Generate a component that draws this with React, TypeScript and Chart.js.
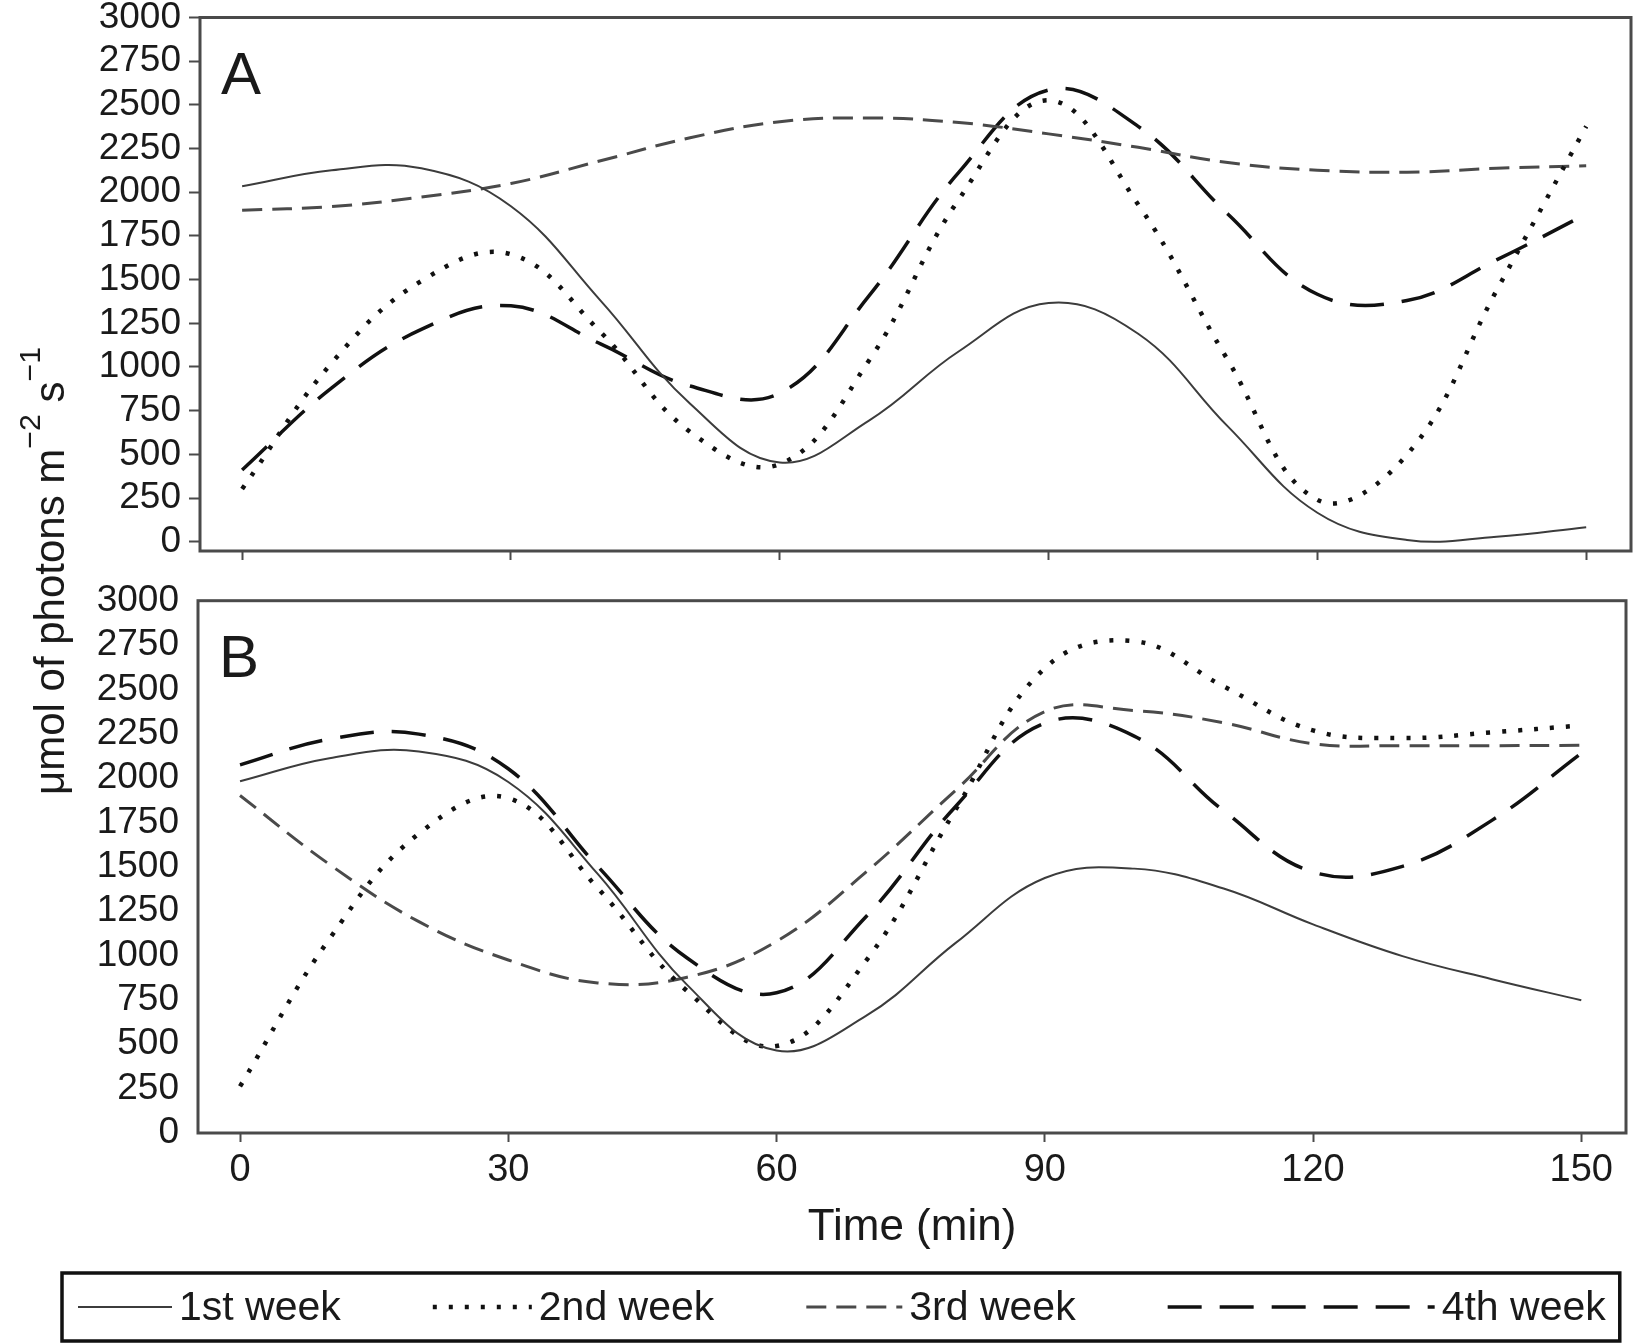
import React, { useEffect, useRef } from 'react';
import Chart from 'chart.js/auto';

// sampling times (min)
const TIME = [0, 10, 20, 30, 40, 50, 60, 70, 80, 90, 100, 110, 120, 130, 140, 150];
const WEEKS = ['1st week', '2nd week', '3rd week', '4th week'];

// panel A, µmol photons m-2 s-1
const A_WEEK1 = [2034, 2126, 2137, 1920, 1380, 790, 454, 695, 1090, 1366, 1190, 660, 166, 10, 28, 83];
const A_WEEK2 = [302, 1023, 1492, 1645, 1200, 629, 444, 1040, 1960, 2526, 1930, 1040, 240, 498, 1438, 2377];
const A_WEEK3 = [1897, 1918, 1973, 2050, 2180, 2312, 2404, 2425, 2399, 2334, 2257, 2170, 2126, 2115, 2137, 2152];
const A_WEEK4 = [411, 880, 1215, 1350, 1132, 891, 850, 1410, 2115, 2585, 2377, 1875, 1416, 1380, 1613, 1875];

// panel B
const B_WEEK1 = [1982, 2112, 2150, 1978, 1460, 835, 465, 660, 1070, 1437, 1490, 1378, 1176, 997, 867, 748];
const B_WEEK2 = [263, 1094, 1687, 1887, 1380, 800, 490, 970, 1820, 2620, 2772, 2517, 2269, 2226, 2258, 2297];
const B_WEEK3 = [1902, 1514, 1191, 975, 846, 878, 1080, 1470, 1930, 2375, 2381, 2312, 2194, 2183, 2183, 2185];
const B_WEEK4 = [2075, 2220, 2248, 2053, 1503, 986, 790, 1219, 1839, 2310, 2237, 1816, 1471, 1503, 1762, 2140];

const Y_TICKS = [0, 250, 500, 750, 1000, 1250, 1500, 1750, 2000, 2250, 2500, 2750, 3000];
const X_TICKS = [0, 30, 60, 90, 120, 150];

const FONT = "'Liberation Sans', Arial, Helvetica, sans-serif";
const INK = '#1a1a1a';
const FRAME = '#4a4a4a';

const LINE_STYLES = [
  { borderColor: '#3c3c3c', borderWidth: 2, borderDash: [] as number[] },
  { borderColor: '#111111', borderWidth: 4.5, borderDash: [4, 12] },
  { borderColor: '#4a4a4a', borderWidth: 3, borderDash: [20, 10] },
  { borderColor: '#111111', borderWidth: 3.5, borderDash: [34, 18] },
];
const LEGEND_LINE_LEN = [94, 99, 96, 267];

const framePlugin = {
  id: 'frame',
  afterDatasetsDraw(chart: any, _args: any, opts: any) {
    const { ctx, chartArea: a } = chart;
    ctx.save();
    ctx.strokeStyle = FRAME;
    ctx.lineWidth = 3;
    ctx.strokeRect(a.left, a.top, a.right - a.left, a.bottom - a.top);
    if (opts.letter) {
      ctx.fillStyle = INK;
      ctx.font = `60px ${FONT}`;
      ctx.textBaseline = 'alphabetic';
      ctx.fillText(opts.letter, a.left + 21, a.top + 76);
    }
    ctx.restore();
  },
};

const weekLegendPlugin = {
  id: 'weekLegend',
  afterDraw(chart: any, _args: any, opts: any) {
    if (!opts || !opts.show) return;
    const { ctx } = chart;
    const cy = (opts.top + opts.bottom) / 2;
    ctx.save();
    ctx.font = `41px ${FONT}`;
    ctx.textBaseline = 'middle';
    let x = opts.left + 16;
    chart.data.datasets.forEach((ds: any, i: number) => {
      const len = LEGEND_LINE_LEN[i];
      ctx.strokeStyle = ds.borderColor;
      ctx.lineWidth = ds.borderWidth;
      ctx.setLineDash(ds.borderDash || []);
      ctx.beginPath();
      ctx.moveTo(x, cy);
      ctx.lineTo(x + len, cy);
      ctx.stroke();
      ctx.setLineDash([]);
      ctx.fillStyle = INK;
      const tx = x + len + 7;
      ctx.fillText(ds.label, tx, cy + 2);
      x = tx + ctx.measureText(ds.label).width + opts.gap;
    });
    const right = x - opts.gap + 14;
    ctx.strokeStyle = '#111111';
    ctx.lineWidth = 3.5;
    ctx.strokeRect(opts.left, opts.top, right - opts.left, opts.bottom - opts.top);
    ctx.restore();
  },
};

type Area = { left: number; top: number; right: number; bottom: number };

function Panel(props: {
  series: number[][];
  letter: string;
  bottom: boolean;
  top: number;
  height: number;
  area: Area;
  yMin: number;
}) {
  const canvasRef = useRef<HTMLCanvasElement | null>(null);
  const chartRef = useRef<Chart | null>(null);
  const { series, letter, bottom, top, height, area, yMin } = props;

  useEffect(() => {
    if (chartRef.current) chartRef.current.destroy();
    const ctx = canvasRef.current?.getContext('2d');
    if (!ctx) return;

    chartRef.current = new Chart(ctx, {
      type: 'line',
      data: {
        datasets: series.map((vals, i) => ({
          label: WEEKS[i],
          data: TIME.map((t, j) => ({ x: t, y: vals[j] })),
          ...LINE_STYLES[i],
          borderCapStyle: 'butt' as const,
          pointRadius: 0,
          tension: 0.4,
          fill: false,
        })),
      },
      options: {
        animation: false,
        responsive: true,
        maintainAspectRatio: false,
        layout: { padding: { left: 0, top: area.top, right: 1636 - area.right, bottom: 0 } },
        plugins: {
          legend: { display: false },
          tooltip: { enabled: false },
          frame: { letter },
          weekLegend: bottom
            ? { show: true, left: 62, top: 1273 - top, bottom: 1341 - top, gap: 92 }
            : { show: false },
        } as any,
        scales: {
          x: {
            type: 'linear',
            min: -4.7,
            max: 155,
            afterBuildTicks: (s: any) => {
              s.ticks = X_TICKS.map((v) => ({ value: v }));
            },
            afterFit: (s: any) => {
              s.height = height - area.bottom;
              s.paddingLeft = 0;
              s.paddingRight = 0;
            },
            border: { display: false },
            grid: {
              display: true,
              drawOnChartArea: false,
              drawTicks: true,
              tickLength: 9,
              tickWidth: 2,
              tickColor: FRAME,
            },
            ticks: {
              display: bottom,
              autoSkip: false,
              maxRotation: 0,
              padding: 6,
              color: INK,
              font: { family: FONT, size: 38 },
              callback: (v: any) => String(v),
            },
            title: {
              display: bottom,
              text: 'Time (min)',
              color: INK,
              font: { family: FONT, size: 44 },
              padding: { top: 0, bottom: 90 },
            },
          },
          y: {
            type: 'linear',
            min: yMin,
            max: 3000,
            afterBuildTicks: (s: any) => {
              s.ticks = Y_TICKS.map((v) => ({ value: v }));
            },
            afterFit: (s: any) => {
              s.width = area.left;
              s.paddingTop = 0;
              s.paddingBottom = 0;
            },
            border: { display: false },
            grid: {
              display: true,
              drawOnChartArea: false,
              drawTicks: true,
              tickLength: 11,
              tickWidth: 2,
              tickColor: bottom ? 'rgba(0,0,0,0)' : FRAME,
            },
            ticks: {
              autoSkip: false,
              padding: 8,
              color: INK,
              font: { family: FONT, size: 37 },
              callback: (v: any) => String(v),
            },
          },
        },
      },
      plugins: [framePlugin, weekLegendPlugin],
    });

    return () => {
      if (chartRef.current) {
        chartRef.current.destroy();
        chartRef.current = null;
      }
    };
  }, []);

  return (
    <div style={{ position: 'absolute', left: 0, top, width: 1636, height }}>
      <canvas ref={canvasRef} />
    </div>
  );
}

export default function App() {
  return (
    <div
      style={{
        position: 'absolute',
        left: 0,
        top: 0,
        width: 1636,
        height: 1344,
        background: '#fff',
        overflow: 'hidden',
      }}
    >
      <Panel
        series={[A_WEEK1, A_WEEK2, A_WEEK3, A_WEEK4]}
        letter="A"
        bottom={false}
        top={0}
        height={575}
        area={{ left: 200, top: 17.5, right: 1631, bottom: 551 }}
        yMin={-53}
      />
      <Panel
        series={[B_WEEK1, B_WEEK2, B_WEEK3, B_WEEK4]}
        letter="B"
        bottom={true}
        top={560}
        height={784}
        area={{ left: 198, top: 40.7, right: 1626, bottom: 573 }}
        yMin={0}
      />
      <div
        style={{
          position: 'absolute',
          left: 50,
          top: 571,
          transform: 'translate(-50%, -50%) rotate(-90deg)',
          whiteSpace: 'nowrap',
          font: `42px ${FONT}`,
          color: INK,
          lineHeight: 1,
        }}
      >
        μmol of photons m
        <sup style={{ fontSize: '0.72em', verticalAlign: '0.8em', lineHeight: 0 }}>−2</sup> s
        <sup style={{ fontSize: '0.72em', verticalAlign: '0.8em', lineHeight: 0 }}>−1</sup>
      </div>
    </div>
  );
}
